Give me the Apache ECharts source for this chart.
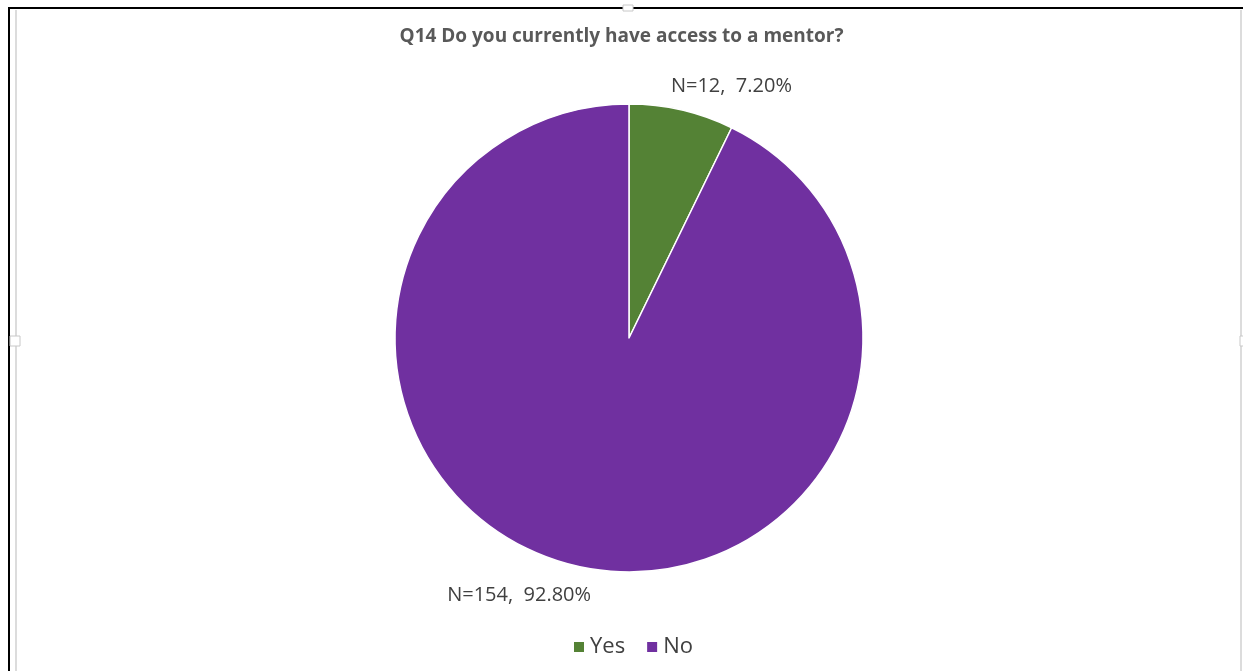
<!DOCTYPE html>
<html><head><meta charset="utf-8">
<script src="https://cdn.jsdelivr.net/npm/echarts@6/dist/echarts.min.js"></script>
<style>html,body{margin:0;padding:0;background:#fff}#c{width:1243px;height:671px}</style>
</head><body><div id="c"></div>
<script>
const titleText = 'Q14 Do you currently have access to a mentor?';
const categories = ['Yes', 'No'];
const counts = [12, 154];
const percents = ['7.20%', '92.80%'];
const colors = ['#548235', '#7030A0'];

const chart = echarts.init(document.getElementById('c'));
chart.setOption({
  backgroundColor: '#ffffff',
  animation: false,
  title: {
    text: titleText, left: 'center', top: 22,
    textStyle: { fontFamily: 'Open Sans', fontWeight: 'bold', fontSize: 19, color: '#595959' }
  },
  legend: {
    data: categories, bottom: 8, left: 567,
    itemWidth: 12, itemHeight: 12, itemGap: 20, icon: 'rect',
    textStyle: { fontFamily: 'Open Sans', fontSize: 22, color: '#404040' }
  },
  graphic: [
    { type: 'line', shape: { x1: 8, y1: 8, x2: 1243, y2: 8 }, style: { stroke: '#000', lineWidth: 2 } },
    { type: 'line', shape: { x1: 9, y1: 8, x2: 9, y2: 671 }, style: { stroke: '#000', lineWidth: 2 } },
    { type: 'line', shape: { x1: 16, y1: 10, x2: 16, y2: 671 }, style: { stroke: '#d0d0d0', lineWidth: 1.5 } },
    { type: 'line', shape: { x1: 1241, y1: 10, x2: 1241, y2: 671 }, style: { stroke: '#d0d0d0', lineWidth: 1.5 } },
    { type: 'rect', shape: { x: 623, y: 5, width: 10, height: 6 }, style: { fill: '#fff', stroke: '#c8c8c8', lineWidth: 1 } },
    { type: 'rect', shape: { x: 10, y: 336, width: 10, height: 10 }, style: { fill: '#fff', stroke: '#c8c8c8', lineWidth: 1 } },
    { type: 'rect', shape: { x: 1240, y: 336, width: 6, height: 10 }, style: { fill: '#fff', stroke: '#c8c8c8', lineWidth: 1 } }
  ],
  series: [{
    type: 'pie',
    center: [629, 338],
    radius: 234,
    startAngle: 90,
    clockwise: true,
    avoidLabelOverlap: false,
    data: categories.map((c, i) => ({ name: c, value: counts[i], itemStyle: { color: colors[i] } })),
    itemStyle: { borderColor: '#ffffff', borderWidth: 1.5 },
    label: {
      show: true, position: 'outside',
      formatter: p => 'N=' + counts[p.dataIndex] + ',  ' + percents[p.dataIndex],
      fontFamily: 'Open Sans', fontSize: 20, color: '#404040'
    },
    labelLine: { show: false, length: 10, length2: 0 },
    labelLayout: function (params) {
      return params.dataIndex === 0 ? { dx: -18, dy: -14 } : { dx: 22, dy: 20 };
    },
    emphasis: { disabled: true }
  }]
});
</script></body></html>
